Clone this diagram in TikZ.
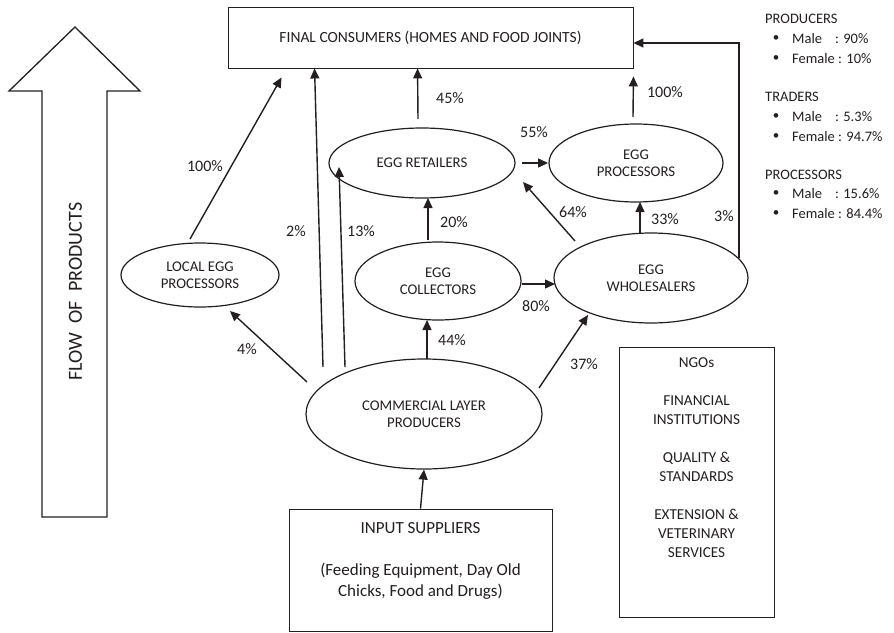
\documentclass[tikz,border=0pt]{standalone}
\usepackage{fontspec}
\setmainfont{Carlito}
\usetikzlibrary{shapes.geometric,arrows.meta,calc}
\definecolor{ink}{HTML}{231F20}
\begin{document}
\begin{tikzpicture}[x=1pt,y=-1pt,color=ink,
  ell/.style={draw, ellipse, inner sep=0pt, line width=1.2pt, align=center, font=\fontsize{14.8}{17.5}\selectfont},
  box/.style={draw, rectangle, line width=0.9pt, inner sep=0pt},
  arr/.style={line width=1.4pt, -{Triangle[length=10pt,width=9pt]}},
  lab/.style={font=\fontsize{16}{19}\selectfont, inner sep=0pt},
  leg/.style={font=\fontsize{14.5}{17}\selectfont, inner sep=0pt, anchor=west},
  bul/.style={font=\fontsize{13}{17}\selectfont, inner sep=0pt},
]
\useasboundingbox (0,0) rectangle (894,632);

% big flow arrow
\draw[line width=1.3pt] (42,517) -- (42,91) -- (9,91) -- (75,27) -- (140,91) -- (107,91) -- (107,517) -- cycle;
\node[rotate=90, font=\fontsize{20}{24}\selectfont, inner sep=0pt] (flow) at (75.5,291.5) {FLOW~~OF~~PRODUCTS};

% boxes
\node[box, minimum width=405pt, minimum height=61pt, font=\fontsize{15.5}{18}\selectfont] (con) at (430.5,37.5) {FINAL CONSUMERS (HOMES AND FOOD JOINTS)};
\node[box, minimum width=263pt, minimum height=122pt] (inp) at (420.5,570) {};
\node[font=\fontsize{17}{20}\selectfont, inner sep=0pt] (inptitle) at (420.5,528) {INPUT SUPPLIERS};
\node[font=\fontsize{17}{21}\selectfont, inner sep=0pt, align=center] (inptext) at (420.5,581.5) {(Feeding Equipment, Day Old\\Chicks, Food and Drugs)};
\node[box, minimum width=155pt, minimum height=270pt] (ngo) at (696.5,482) {};
\node[font=\fontsize{15.2}{19}\selectfont, inner sep=0pt, align=center] (ngotext) at (696.5,458) {NGOs\\[19pt]FINANCIAL\\INSTITUTIONS\\[19pt]QUALITY \&\\STANDARDS\\[19pt]EXTENSION \&\\VETERINARY\\SERVICES};

% ellipses
\node[ell, minimum width=186pt, minimum height=70pt] (ret) at (422,163) {EGG RETAILERS};
\node[ell, minimum width=174pt, minimum height=78pt] (proc) at (636,163) {EGG\\PROCESSORS};
\node[ell, minimum width=166pt, minimum height=78pt] (col) at (438,281) {EGG\\COLLECTORS};
\node[ell, minimum width=194pt, minimum height=90pt] (who) at (651,278) {EGG\\WHOLESALERS};
\node[ell, minimum width=158pt, minimum height=64pt] (loc) at (200,275) {LOCAL EGG\\PROCESSORS};
\node[ell, minimum width=236pt, minimum height=110pt] (com) at (424,414) {COMMERCIAL LAYER\\PRODUCERS};

% connectors
\draw[arr] (inp.north) -- (com.south);
\draw[arr] ($(loc.center)+(-10,-36)$) -- ($(con.south west)+(54,9)$);
\draw[arr] ($(com.center)+(-101,-47)$) -- ($(con.south west)+(87,0)$);
\draw[arr] ($(com.center)+(-79,-47)$) -- ($(ret.center)+(-83,4)$);
\draw[arr] ($(ret.center)+(-4,-44)$) -- ($(con.south west)+(190,0)$);
\draw[arr] ($(col.center)+(-10,-41)$) -- ($(ret.center)+(6,35)$);
\draw[arr] ($(com.center)+(3,-55)$) -- ($(col.center)+(-11,39)$);
\draw[arr] ($(com.center)+(-117,-32)$) -- ($(loc.center)+(30,36)$);
\draw[arr] ($(com.center)+(115,-26)$) -- ($(who.center)+(-63,37)$);
\draw[arr] ($(col.center)+(84,3)$) -- ($(who.center)+(-96,6)$);
\draw[arr] ($(ret.center)+(100,0)$) -- ($(proc.center)+(-88,0)$);
\draw[arr] ($(who.center)+(-76,-37)$) -- ($(ret.center)+(101,19)$);
\draw[arr] ($(who.center)+(-11,-45)$) -- ($(proc.center)+(4,39)$);
\draw[arr] ($(proc.center)+(-3,-46)$) -- ($(con.south east)+(0,8)$);
\draw[arr] ($(who.center)+(88,-20)$) |- ($(con.east)+(0,5.5)$);

% labels
\node[lab] (l1) at (205,166) {100\%};
\node[lab] (l2) at (296,231) {2\%};
\node[lab] (l3) at (361,231) {13\%};
\node[lab] (l4) at (450,98) {45\%};
\node[lab] (l5) at (454,222) {20\%};
\node[lab] (l6) at (452,340) {44\%};
\node[lab] (l7) at (247,349) {4\%};
\node[lab] (l8) at (584,364) {37\%};
\node[lab] (l9) at (536,306) {80\%};
\node[lab] (l10) at (534,132) {55\%};
\node[lab] (l11) at (573,212) {64\%};
\node[lab] (l12) at (665,219) {33\%};
\node[lab] (l13) at (665,92) {100\%};
\node[lab] (l14) at (724,216) {3\%};

% legend
\node[leg] (gp) at (765,19) {PRODUCERS};
\node[bul] (b1) at (776,39) {\textbullet};
\node[leg] (gp1) at (792,39) {Male\hspace{0.9em}: 90\%};
\node[bul] (b2) at (776,59) {\textbullet};
\node[leg] (gp2) at (792,59) {Female : 10\%};
\node[leg] (gt) at (765,97) {TRADERS};
\node[bul] (b3) at (776,117) {\textbullet};
\node[leg] (gt1) at (792,117) {Male\hspace{0.9em}: 5.3\%};
\node[bul] (b4) at (776,137) {\textbullet};
\node[leg] (gt2) at (792,137) {Female : 94.7\%};
\node[leg] (gr) at (765,175) {PROCESSORS};
\node[bul] (b5) at (776,194) {\textbullet};
\node[leg] (gr1) at (792,194) {Male\hspace{0.9em}: 15.6\%};
\node[bul] (b6) at (776,214) {\textbullet};
\node[leg] (gr2) at (792,214) {Female : 84.4\%};
\end{tikzpicture}
\end{document}
